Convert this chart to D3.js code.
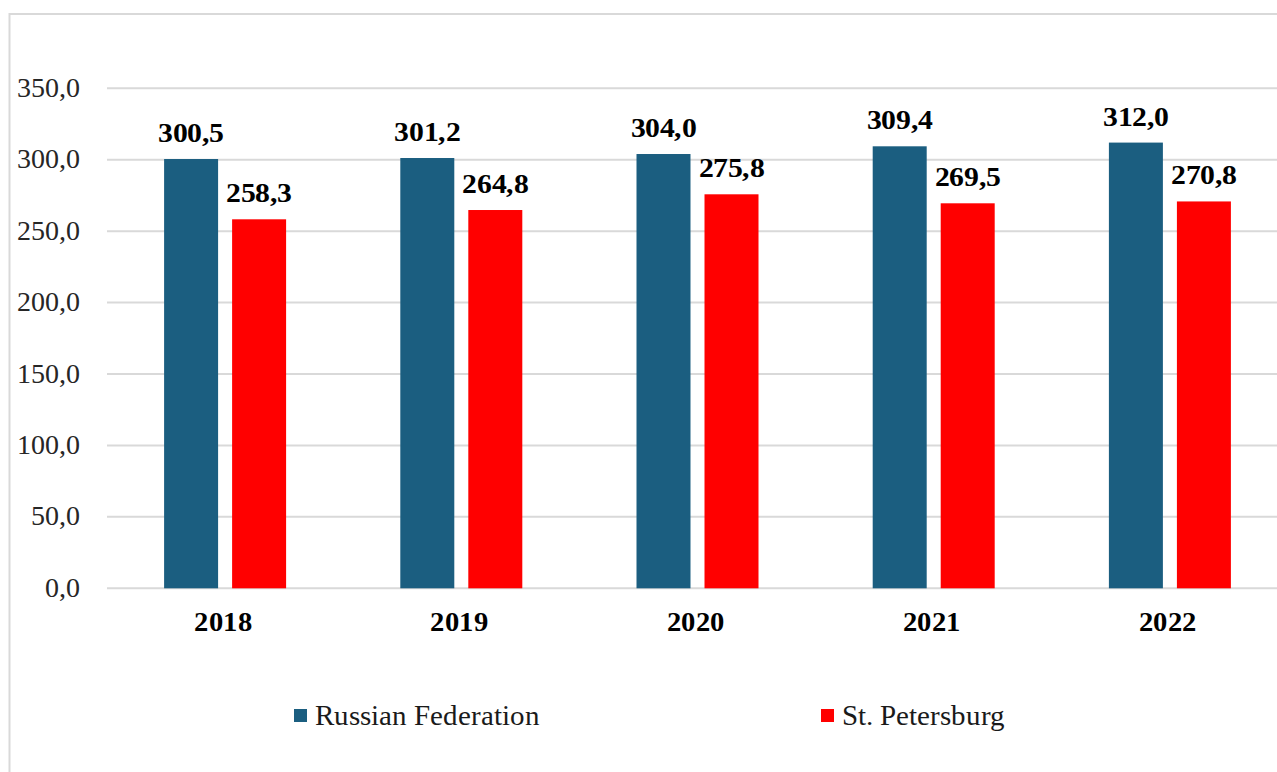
<!DOCTYPE html>
<html>
<head>
<meta charset="utf-8">
<script src="https://cdn.jsdelivr.net/npm/d3@7"></script>
<style>
  @font-face {
    font-family: "ChartSerif";
    src: local("Liberation Serif"), local("LiberationSerif"), local("LiberationSerif-Regular"), local("Liberation Serif Regular"), local("Tinos"), local("Times New Roman");
    font-weight: 400;
    font-style: normal;
  }
  @font-face {
    font-family: "ChartSerif";
    src: local("Liberation Serif Bold"), local("LiberationSerif-Bold"), local("Tinos Bold"), local("Times New Roman Bold");
    font-weight: 700;
    font-style: normal;
  }
  html, body { margin: 0; padding: 0; background: #ffffff; }
  svg { display: block; }
</style>
</head>
<body>
<svg id="chart" width="1277" height="772"></svg>
<script>
// Data
const years = ["2018", "2019", "2020", "2021", "2022"];
const seriesNames = ["Russian Federation", "St. Petersburg"];
const russia = [300.5, 301.2, 304.0, 309.4, 312.0];
const stPetersburg = [258.3, 264.8, 275.8, 269.5, 270.8];
const yTicks = [0, 50, 100, 150, 200, 250, 300, 350];
const colors = ["#1b5e80", "#ff0000"];

const FONT = '"ChartSerif", "Liberation Serif", "Times New Roman", Tinos, serif';
const fmt = v => v.toFixed(1).replace(".", ",");

const svg = d3.select("#chart");

// Outer frame
svg.append("rect")
  .attr("x", 9.5).attr("y", 14)
  .attr("width", 1300).attr("height", 800)
  .attr("fill", "none")
  .attr("stroke", "#d9d9d9")
  .attr("stroke-width", 2);

const plot = { left: 107, right: 1288, top: 88.3, bottom: 588.3 };

const x0 = d3.scaleBand().domain(years).range([plot.left, plot.right]);
const x1 = d3.scaleBand().domain(seriesNames).range([-61, 61]).paddingInner(0.206);
const y = d3.scaleLinear().domain([0, 350]).range([plot.bottom, plot.top]);

// Gridlines
svg.append("g").selectAll("line")
  .data(yTicks)
  .join("line")
  .attr("x1", plot.left).attr("x2", plot.right)
  .attr("y1", d => y(d)).attr("y2", d => y(d))
  .attr("stroke", "#d9d9d9")
  .attr("stroke-width", 2);

// Y tick labels
svg.append("g").selectAll("text")
  .data(yTicks)
  .join("text")
  .attr("x", 80)
  .attr("y", d => y(d) + 8.6)
  .attr("text-anchor", "end")
  .style("font-family", FONT)
  .style("font-weight", "400")
  .style("font-size", "28px")
  .attr("fill", "#262626")
  .text(d => fmt(d));

const table = years.map((yr, i) => ({
  year: yr,
  values: [
    { name: seriesNames[0], value: russia[i], color: colors[0] },
    { name: seriesNames[1], value: stPetersburg[i], color: colors[1] }
  ]
}));

const groups = svg.append("g").selectAll("g")
  .data(table)
  .join("g")
  .attr("transform", d => `translate(${x0(d.year) + x0.bandwidth() / 2},0)`);

groups.selectAll("rect")
  .data(d => d.values)
  .join("rect")
  .attr("x", d => x1(d.name))
  .attr("width", x1.bandwidth())
  .attr("y", d => y(d.value))
  .attr("height", d => y(0) - y(d.value))
  .attr("fill", d => d.color);

// Value labels above bars
groups.selectAll("text.val")
  .data(d => d.values)
  .join("text")
  .attr("class", "val")
  .attr("transform", d => `translate(${x1(d.name) + x1.bandwidth() / 2},${y(d.value) - 17}) scale(1.1,1)`)
  .attr("text-anchor", "middle")
  .style("font-family", FONT)
  .style("font-weight", "700")
  .style("font-size", "27px")
  .attr("fill", "#000")
  .text(d => fmt(d.value));

// Category labels
svg.append("g").selectAll("text")
  .data(years)
  .join("text")
  .attr("transform", d => `translate(${x0(d) + x0.bandwidth() / 2 - 2},631) scale(1.06,1)`)
  .attr("text-anchor", "middle")
  .style("font-family", FONT)
  .style("font-weight", "700")
  .style("font-size", "27px")
  .attr("fill", "#000")
  .text(d => d);

// Legend
const legendItems = [
  { name: seriesNames[0], color: colors[0], x: 294 },
  { name: seriesNames[1], color: colors[1], x: 821 }
];
const legend = svg.append("g").selectAll("g")
  .data(legendItems)
  .join("g")
  .attr("transform", d => `translate(${d.x},709)`);
legend.append("rect")
  .attr("width", 13).attr("height", 13)
  .attr("fill", d => d.color);
legend.append("text")
  .attr("x", 21)
  .attr("y", 16)
  .style("font-family", FONT)
  .style("font-weight", "400")
  .style("font-size", "29px")
  .attr("fill", "#1a1a1a")
  .text(d => d.name);
</script>
</body>
</html>
